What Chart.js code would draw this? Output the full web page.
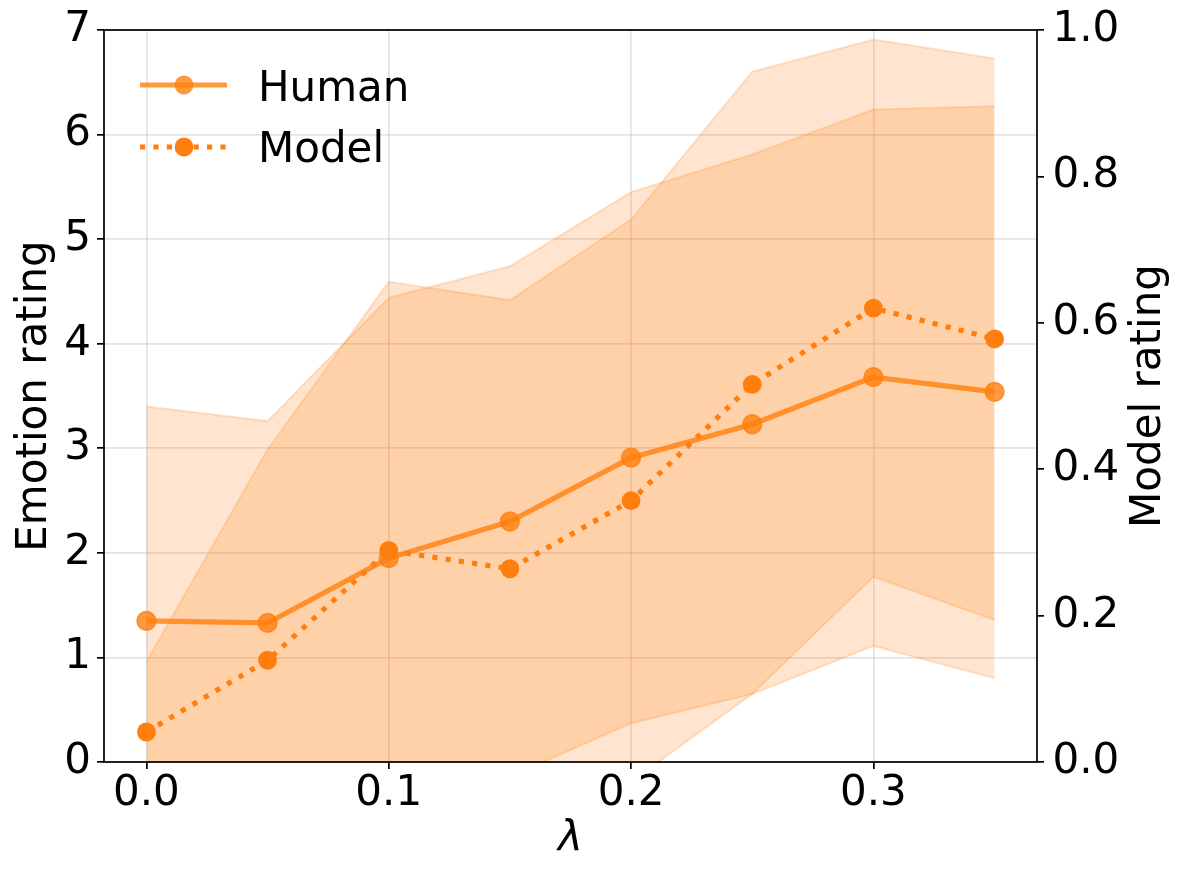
<!DOCTYPE html>
<html lang="en">
<head>
  <meta charset="UTF-8">
  <title>Emotion rating vs lambda</title>
  <script src="https://cdn.jsdelivr.net/npm/chart.js"></script>
  <style>
    html, body { margin: 0; padding: 0; background: #fff; }
    canvas { display: block; }
  </style>
</head>
<body>
  <canvas id="chart" width="1181" height="881"></canvas>

  <script>
    // x axis: lambda
    const lambdas = [0.0, 0.05, 0.10, 0.15, 0.20, 0.25, 0.30, 0.35];
    const xTicks = [0.0, 0.1, 0.2, 0.3];

    // Human emotion rating (left axis) + shaded band
    const humanMean = [1.35, 1.33, 1.95, 2.30, 2.91, 3.23, 3.68, 3.54];
    const humanHigh = [3.40, 3.26, 4.44, 4.74, 5.45, 5.81, 6.24, 6.27];
    const humanLow  = [-0.70, -0.60, -0.55, -0.14, 0.37, 0.65, 1.11, 0.80];

    // Model rating (right axis) + shaded band
    const modelMean = [0.041, 0.139, 0.289, 0.264, 0.357, 0.516, 0.620, 0.578];
    const modelHigh = [0.137, 0.427, 0.656, 0.631, 0.741, 0.943, 0.987, 0.961];
    const modelLow  = [-0.054, -0.149, -0.077, -0.101, -0.027, 0.093, 0.253, 0.194];

    const ORANGE = 'rgb(255,127,14)';
    const ORANGE_80 = 'rgba(255,127,14,0.8)';
    const BAND = 'rgba(255,127,14,0.2)';
    const FONT = "'DejaVu Sans', sans-serif";
    const DOTS = [5.2, 8.2];

    Chart.defaults.font.family = FONT;
    Chart.defaults.font.size = 42;
    Chart.defaults.color = '#000';

    const pts = ys => lambdas.map((x, i) => ({ x: x, y: ys[i] }));

    // spines, legend and the right-hand axis title
    const extras = {
      id: 'extras',
      afterDatasetsDraw(chart) {
        const { ctx, chartArea: a } = chart;
        ctx.save();
        ctx.strokeStyle = '#000';
        ctx.lineWidth = 1.7;
        ctx.setLineDash([]);
        ctx.strokeRect(a.left, a.top, a.right - a.left, a.bottom - a.top);

        const rows = [
          { label: 'Human', y: 85, base: 100.7, color: ORANGE_80, dash: [] },
          { label: 'Model', y: 147, base: 161.7, color: ORANGE, dash: DOTS }
        ];
        rows.forEach(r => {
          ctx.strokeStyle = r.color;
          ctx.lineWidth = 5.2;
          ctx.lineCap = 'butt';
          ctx.setLineDash(r.dash);
          ctx.beginPath();
          ctx.moveTo(140, r.y);
          ctx.lineTo(227, r.y);
          ctx.stroke();
          ctx.setLineDash([]);
          ctx.fillStyle = r.color;
          ctx.beginPath();
          ctx.arc(184, r.y, 9.4, 0, Math.PI * 2);
          ctx.fill();
          ctx.fillStyle = '#000';
          ctx.font = '42px ' + FONT;
          ctx.textAlign = 'left';
          ctx.textBaseline = 'alphabetic';
          ctx.fillText(r.label, 258, r.base);
        });

        ctx.translate(1149, (a.top + a.bottom) / 2);
        ctx.rotate(-Math.PI / 2);
        ctx.textAlign = 'center';
        ctx.textBaseline = 'middle';
        ctx.fillText('Model rating', 0, 0);
        ctx.restore();
      }
    };

    const grid = {
      color: 'rgba(176,176,176,0.35)',
      lineWidth: 1.7,
      tickColor: '#000',
      tickWidth: 1.7,
      tickLength: 7
    };

    new Chart(document.getElementById('chart'), {
      type: 'line',
      data: {
        datasets: [
          {
            label: 'Model',
            data: pts(modelMean),
            yAxisID: 'y1',
            borderColor: ORANGE,
            backgroundColor: ORANGE,
            borderWidth: 5.2,
            borderDash: DOTS,
            borderCapStyle: 'butt',
            pointRadius: 9.4,
            pointBorderWidth: 0,
            pointBackgroundColor: ORANGE,
            fill: false
          },
          {
            label: 'Human',
            data: pts(humanMean),
            yAxisID: 'y',
            borderColor: ORANGE_80,
            backgroundColor: ORANGE_80,
            borderWidth: 5.2,
            pointRadius: 9.4,
            pointBorderWidth: 1.5,
            pointBorderColor: ORANGE_80,
            pointBackgroundColor: ORANGE_80,
            fill: false
          },
          {
            label: 'human high',
            data: pts(humanHigh),
            yAxisID: 'y',
            borderColor: BAND,
            backgroundColor: BAND,
            borderWidth: 2,
            pointRadius: 0,
            fill: '+1'
          },
          {
            label: 'human low',
            data: pts(humanLow),
            yAxisID: 'y',
            borderColor: BAND,
            borderWidth: 2,
            pointRadius: 0,
            fill: false
          },
          {
            label: 'model high',
            data: pts(modelHigh),
            yAxisID: 'y1',
            borderColor: BAND,
            backgroundColor: BAND,
            borderWidth: 2,
            pointRadius: 0,
            fill: '+1'
          },
          {
            label: 'model low',
            data: pts(modelLow),
            yAxisID: 'y1',
            borderColor: BAND,
            borderWidth: 2,
            pointRadius: 0,
            fill: false
          }
        ]
      },
      options: {
        responsive: false,
        devicePixelRatio: 1,
        animation: false,
        events: [],
        layout: { padding: { top: 30, left: 0, right: 0, bottom: 0 } },
        plugins: {
          legend: { display: false },
          tooltip: { enabled: false }
        },
        scales: {
          x: {
            type: 'linear',
            min: -0.0175,
            max: 0.3675,
            afterBuildTicks: s => { s.ticks = xTicks.map(v => ({ value: v })); },
            afterFit: s => { s.height = 119; },
            grid: grid,
            border: { display: false },
            ticks: {
              padding: 4,
              maxRotation: 0,
              font: { size: 42, lineHeight: 1 },
              callback: v => v.toFixed(1)
            },
            title: {
              display: true,
              text: 'λ',
              font: { size: 42, style: 'italic', lineHeight: 1 },
              padding: { top: 0, bottom: 19.5 }
            }
          },
          y: {
            position: 'left',
            min: 0,
            max: 7,
            afterFit: s => { s.width = 104; },
            grid: grid,
            border: { display: false },
            ticks: { stepSize: 1, padding: 6, font: { size: 42, lineHeight: 1 } },
            title: {
              display: true,
              text: 'Emotion rating',
              font: { size: 42, lineHeight: 1 },
              padding: { top: 14, bottom: 0 }
            }
          },
          y1: {
            position: 'right',
            min: 0,
            max: 1,
            afterFit: s => { s.width = 144; },
            grid: Object.assign({}, grid, { drawOnChartArea: false }),
            border: { display: false },
            ticks: {
              stepSize: 0.2,
              padding: 8.5,
              font: { size: 42, lineHeight: 1 },
              callback: v => v.toFixed(1)
            }
          }
        }
      },
      plugins: [extras]
    });
  </script>
</body>
</html>
